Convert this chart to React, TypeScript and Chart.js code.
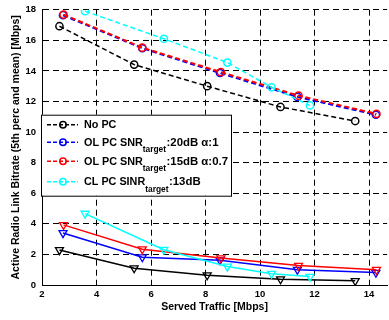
import { useEffect, useRef } from 'react';
import { Chart, registerables } from 'chart.js';

Chart.register(...registerables);

// ---- data ----
const xTicks = [2, 4, 6, 8, 10, 12, 14];
const yTicks = [0, 2, 4, 6, 8, 10, 12, 14, 16, 18];

const noPcX = [2.64, 5.38, 8.06, 10.75, 13.49];
const noPcMean = [16.92, 14.41, 13.0, 11.64, 10.72];
const noPc5th = [2.29, 1.1, 0.64, 0.38, 0.27];

const ol20X = [2.77, 5.68, 8.53, 11.37, 14.25];
const ol20Mean = [17.64, 15.48, 13.86, 12.3, 11.13];
const ol205th = [3.4, 1.82, 1.62, 1.0, 0.81];

const ol15X = [2.79, 5.68, 8.56, 11.41, 14.27];
const ol15Mean = [17.68, 15.52, 13.92, 12.38, 11.19];
const ol155th = [3.93, 2.34, 1.76, 1.27, 1.0];

const clX = [3.58, 6.47, 8.8, 10.42, 11.83];
const clMean = [17.9, 16.1, 14.54, 12.93, 11.74];
const cl5th = [4.67, 2.31, 1.21, 0.74, 0.55];

const seriesNames = ['No PC', 'OL PC SNR', 'OL PC SNR', 'CL PC SINR'];
const seriesSubs = ['', 'target', 'target', 'target'];
const seriesSuffix = ['', ':20dB \u03b1:1', ':15dB \u03b1:0.7', ':13dB'];
const seriesColors = ['#000000', '#0000ff', '#ff0000', '#00ffff'];

const xTitle = 'Served Traffic [Mbps]';
const yTitle = 'Active Radio Link Bitrate (5th perc and mean) [Mbps]';

const FONT = "'Liberation Sans', Arial, Helvetica, sans-serif";

const pts = (xs: number[], ys: number[]) => xs.map((x, i) => ({ x, y: ys[i] }));

const legendPlugin = {
  id: 'matlabLegend',
  afterDatasetsDraw(chart: any) {
    const ctx = chart.ctx as CanvasRenderingContext2D;
    const ca = chart.chartArea;
    const bx = ca.left - 1;
    const by = ca.top + 105;
    const bw = 190;
    const bh = 81;
    ctx.save();
    ctx.fillStyle = '#ffffff';
    ctx.fillRect(bx, by, bw, bh);
    ctx.strokeStyle = '#000000';
    ctx.lineWidth = 1;
    ctx.setLineDash([]);
    ctx.strokeRect(bx + 0.5, by + 0.5, bw, bh);
    const rowOff = [10, 27.5, 46.5, 67];
    for (let i = 0; i < seriesNames.length; i++) {
      const y = by + rowOff[i];
      const c = seriesColors[i];
      ctx.strokeStyle = c;
      ctx.lineWidth = 1.5;
      ctx.setLineDash([4, 2]);
      ctx.beginPath();
      ctx.moveTo(bx + 6, y);
      ctx.lineTo(bx + 37, y);
      ctx.stroke();
      ctx.setLineDash([]);
      ctx.beginPath();
      ctx.arc(bx + 22, y, 3.2, 0, Math.PI * 2);
      ctx.stroke();
      let tx = bx + 43;
      ctx.fillStyle = '#000000';
      ctx.textBaseline = 'middle';
      ctx.textAlign = 'left';
      ctx.font = `bold 10.8px ${FONT}`;
      ctx.fillText(seriesNames[i], tx, y + 0.5);
      tx += ctx.measureText(seriesNames[i]).width;
      if (seriesSubs[i]) {
        ctx.font = `bold 8.4px ${FONT}`;
        ctx.fillText(seriesSubs[i], tx, y + 7.5);
        tx += ctx.measureText(seriesSubs[i]).width + 0.5;
        ctx.font = `bold 11.4px ${FONT}`;
        ctx.fillText(seriesSuffix[i], tx, y + 0.5);
      }
    }
    ctx.restore();
  },
};

export default function App() {
  const ref = useRef<HTMLCanvasElement | null>(null);
  useEffect(() => {
    if (!ref.current) return;
    const meanDs = (label: string, xs: number[], ys: number[], color: string, order: number, width: number) => ({
      label,
      data: pts(xs, ys),
      borderColor: color,
      backgroundColor: color,
      borderWidth: width,
      borderDash: [5, 3],
      pointStyle: 'circle',
      pointRadius: 3.6,
      pointBorderWidth: 1.5,
      pointBorderColor: color,
      pointBackgroundColor: 'rgba(255,255,255,0)',
      order,
      tension: 0,
    });
    const lowDs = (label: string, xs: number[], ys: number[], color: string, order: number) => ({
      label,
      data: pts(xs, ys),
      borderColor: color,
      backgroundColor: color,
      borderWidth: 1.5,
      pointStyle: 'triangle',
      pointRotation: 180,
      pointRadius: 4.6,
      pointBorderWidth: 1.3,
      pointBorderColor: color,
      pointBackgroundColor: 'rgba(255,255,255,0)',
      order,
      tension: 0,
    });
    const tickFont = { family: FONT, size: 9.5, weight: 'bold' as const };
    const titleFont = { family: FONT, size: 10.5, weight: 'bold' as const };
    const chart = new Chart(ref.current, {
      type: 'line',
      data: {
        datasets: [
          meanDs(seriesNames[0], noPcX, noPcMean, seriesColors[0], 3, 1.5),
          meanDs(seriesNames[1], ol20X, ol20Mean, seriesColors[1], 2, 2),
          meanDs(seriesNames[2], ol15X, ol15Mean, seriesColors[2], 1, 2),
          meanDs(seriesNames[3], clX, clMean, seriesColors[3], 0, 1.5),
          lowDs(seriesNames[0], noPcX, noPc5th, seriesColors[0], 3),
          lowDs(seriesNames[1], ol20X, ol205th, seriesColors[1], 2),
          lowDs(seriesNames[2], ol15X, ol155th, seriesColors[2], 1),
          lowDs(seriesNames[3], clX, cl5th, seriesColors[3], 0),
        ] as any,
      },
      options: {
        responsive: false,
        maintainAspectRatio: false,
        animation: false,
        layout: { padding: { top: 3, right: 1, left: 0, bottom: 0 } },
        plugins: { legend: { display: false }, tooltip: { enabled: false } },
        scales: {
          x: {
            type: 'linear',
            min: 2,
            max: 14.66,
            afterBuildTicks: (s: any) => {
              s.ticks = xTicks.map((v) => ({ value: v }));
            },
            afterFit: (s: any) => {
              s.height = 35;
            },
            ticks: { font: tickFont, color: '#000', padding: 4, maxRotation: 0 },
            grid: { color: '#000', lineWidth: 1, drawTicks: false },
            border: { display: true, color: '#000', width: 1, dash: [6, 4] },
            title: { display: true, text: xTitle, font: titleFont, color: '#000', padding: { top: 0, bottom: 7 } },
          },
          y: {
            type: 'linear',
            min: 0,
            max: 18,
            afterBuildTicks: (s: any) => {
              s.ticks = yTicks.map((v) => ({ value: v }));
            },
            afterFit: (s: any) => {
              s.width = 42;
            },
            ticks: { font: tickFont, color: '#000', padding: 6 },
            grid: { color: '#000', lineWidth: 1, drawTicks: false },
            border: { display: true, color: '#000', width: 1, dash: [6, 4] },
            title: { display: true, text: yTitle, font: titleFont, color: '#000', padding: { top: 10, bottom: 0 } },
          },
        },
      } as any,
      plugins: [legendPlugin],
    });
    return () => chart.destroy();
  }, []);
  return (
    <div style={{ position: 'absolute', left: 0, top: 0, width: 389, height: 320, background: '#fff', overflow: 'hidden' }}>
      <canvas
        ref={ref}
        width={393}
        height={322}
        style={{ position: 'absolute', left: 0, top: -2, display: 'block', width: 393, height: 322 }}
      />
    </div>
  );
}
